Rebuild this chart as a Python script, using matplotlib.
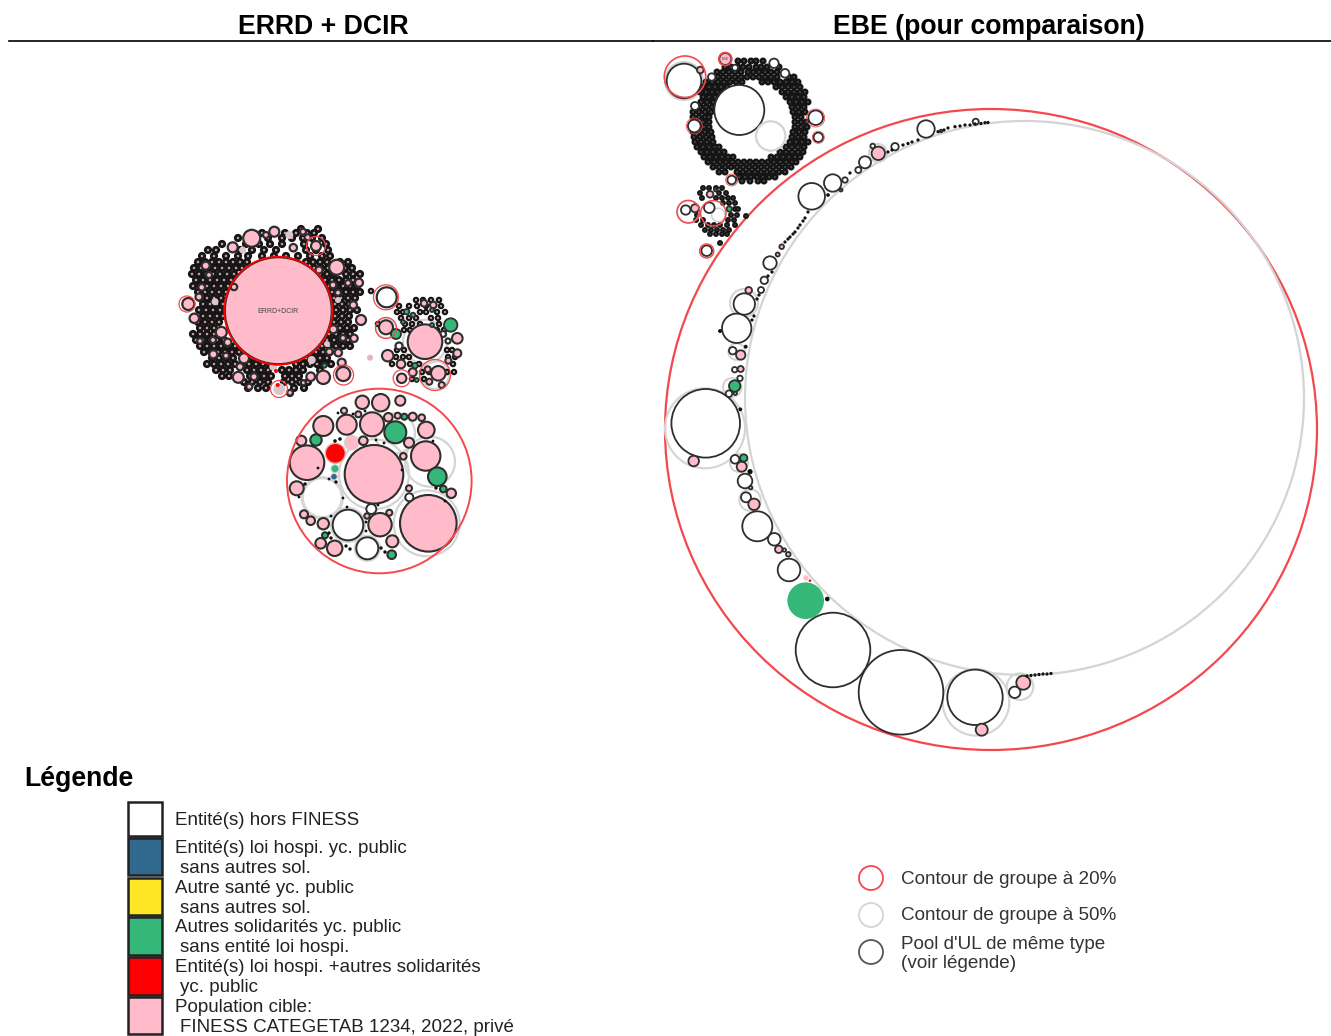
import matplotlib
matplotlib.use("Agg")
import matplotlib.pyplot as plt
from matplotlib.patches import Circle, Ellipse, Rectangle

plt.rcParams['font.family'] = ['Liberation Sans', 'DejaVu Sans']

PINK = "#ffbbc9"
GREEN = "#35b779"
BLUE = "#31688e"
YELLOW = "#fde725"
RED = "#ff0000"
EDGE = "#2e2e2e"
GREY = "#d4d4d4"
CONTOUR = "#f4484c"

# all circles are (x, y, radius) in pixels

# ---- ERRD + DCIR, first group
errd_pink = [(278.3, 310.7, 53.5), (251.7, 238.3, 8.5), (274.3, 231.7, 5), (232.7, 247.3, 5), (316, 246, 5),
             (336.7, 267.3, 7.5), (188.3, 304, 6), (194.3, 318.3, 4.7), (221.3, 332.3, 5.5), (213.3, 354.3, 4),
             (244, 358.3, 5), (238.3, 377.3, 5.5), (323.3, 377.3, 6.7), (343.3, 374, 7), (361, 320, 5),
             (359, 282.7, 4), (333.3, 329.3, 4), (341.7, 362.7, 4), (338.3, 352.7, 3.7), (205.7, 265.7, 4),
             (293.3, 247.7, 3.7), (310.7, 376.7, 4.3), (354, 338.3, 3.7), (353.3, 305, 3.7), (227.7, 342.3, 3.7),
             (199, 297, 3.5), (234, 287, 3.2), (201.7, 287.3, 3.3), (209, 275, 3), (333, 285, 3.3),
             (338, 292.7, 3), (343, 338, 3), (213, 340, 3), (200, 341, 2.8), (226, 355.7, 3), (254, 376.7, 3.5),
             (266, 235, 3), (303, 231.7, 3), (307.7, 237.3, 3), (329.3, 351.7, 3.3), (319, 270, 3.5),
             (348, 283, 3), (240, 366.7, 3.5), (249.3, 386.7, 3), (290, 392.7, 2.8), (303.3, 382.7, 2.5)]
errd_plain = [(215, 301.7, 3.5), (242.7, 250, 3.5), (273.3, 366.7, 4), (311.7, 360, 4), (289.3, 235, 4),
              (279.3, 389, 6), (327, 344, 3), (338, 300, 3)]
errd_red_rings = [(187, 304, 8), (316, 246, 9.5), (343.5, 375, 10), (279, 389, 8.5)]
errd_main_ring = [(278.3, 310.7, 54)]
errd_red_dots = [(276, 371, 2), (277.7, 385, 2)]
errd_green_dots = [(324.5, 365.5, 2.2)]

# tiny circles of the first group, as (y, [x, ...]) rows
errd_rows = [
    (229, [301, 318]),
    (233, [262, 285, 296, 307, 314]),
    (238, [238, 268, 282, 292, 303, 312, 322]),
    (244, [222, 246, 259, 270, 282, 304, 326]),
    (250, [208, 216, 240, 252, 264, 276, 306, 316, 328]),
    (256, [202, 214, 226, 238, 248, 262, 274, 286, 298, 310, 322, 330]),
    (262, [198, 205, 212, 219, 226, 233, 240, 247, 306, 313, 320, 327, 340, 348]),
    (268, [194, 201, 208, 215, 222, 229, 236, 242, 314, 321, 328, 345, 352]),
    (274, [192, 199, 206, 213, 220, 227, 234, 320, 327, 334, 346, 353, 360]),
    (280, [196, 203, 210, 217, 224, 231, 325, 332, 339, 346, 353]),
    (286, [193, 200, 207, 214, 221, 228, 329, 336, 343, 350, 357]),
    (292, [198, 205, 212, 219, 226, 332, 339, 346, 353, 360]),
    (298, [200, 207, 214, 221, 334, 341, 348, 355]),
    (304, [203, 210, 217, 223, 335, 342, 349]),
    (310, [199, 206, 213, 220, 336, 343, 350, 357]),
    (316, [203, 210, 217, 223, 335, 342, 349]),
    (322, [198, 205, 212, 219, 334, 341, 348]),
    (328, [200, 207, 214, 340, 347, 354]),
    (334, [193, 200, 207, 214, 329, 336, 343, 350]),
    (340, [196, 203, 210, 217, 224, 327, 334, 341, 348]),
    (346, [200, 207, 214, 221, 228, 235, 322, 329, 336, 343, 350]),
    (352, [204, 211, 218, 225, 232, 239, 316, 323, 330]),
    (358, [212, 219, 226, 233, 252, 259, 306, 313, 320, 327]),
    (364, [207, 214, 221, 228, 235, 242, 249, 256, 263, 270, 296, 303, 310, 317, 324, 331]),
    (370, [216, 223, 230, 247, 254, 261, 268, 282, 289, 296, 303, 320]),
    (376, [222, 229, 250, 257, 264, 271, 285, 292, 299]),
    (382, [244, 252, 260, 268, 284, 292, 300, 308]),
    (388, [248, 258, 266, 294, 304]),
    (393, [290]),
]

# ---- ERRD + DCIR, second group
small_grey = [(425, 341.7, 22), (386, 328, 10), (435, 375, 14)]
small_pink = [(425, 341.7, 17.3), (386, 327.3, 7), (457.3, 338.3, 5.3), (387.7, 355.7, 5.7), (401, 364, 4.3),
              (401.7, 378.3, 4.7), (412.7, 372.3, 4), (438.3, 373.3, 7.3), (427.7, 369.3, 3), (429.3, 381.7, 3),
              (441.7, 385, 3), (457.3, 353.3, 4), (448.3, 360.7, 3), (424, 303.3, 3.3), (433.3, 305, 3.3)]
small_green = [(396, 334, 5), (450.7, 325, 6.7), (406.7, 311.7, 2.7), (415, 365.7, 2.7), (416.7, 380, 2),
               (413, 315, 2.3), (432, 310, 2), (432, 325, 2), (403, 322, 2)]
small_white = [(386.7, 297.3, 10), (443, 334, 3), (399, 346, 3.5), (448, 341, 2.5)]
small_red_rings = [(386, 297.3, 12.5), (435, 375, 15.5), (401.7, 378.3, 8.5), (386, 328, 10.5)]
small_rows = [
    (300, [416, 423, 431, 439]),
    (306, [399, 409, 417, 426, 441]),
    (312, [397, 403, 420, 426, 437, 445]),
    (318, [401, 409, 416, 431, 438]),
    (324, [378, 405, 412, 420, 439]),
    (330, [404, 410, 437, 444]),
    (350, [397, 404, 447, 452]),
    (357, [396, 403, 409, 448, 455]),
    (364, [392, 410, 419, 453]),
    (372, [422, 429, 447, 454]),
    (379, [412, 424]),
    (291, [371, 386]),
]

# ---- ERRD + DCIR, third group
third_grey = [(430, 461.7, 25), (426.7, 523.3, 33), (374, 474.3, 35), (395, 433.3, 20), (322.3, 497.7, 20.5),
              (348, 525, 17), (367.3, 548.3, 12.5)]
third_pink = [(374, 474.3, 29.3), (428.3, 523.3, 28.3), (307, 462.7, 17.3), (425.7, 456, 14.7), (372, 424.3, 12),
              (346.7, 424.7, 10), (323.3, 426, 10), (362.3, 402.3, 6.7), (380.7, 402.7, 8.7), (400.3, 400.7, 5),
              (426.3, 430, 8.3), (409, 442.7, 5), (363.3, 440.7, 4.3), (301.3, 440.7, 5), (296.7, 488.3, 7),
              (380, 524.7, 11.7), (392.3, 541.3, 6), (334.7, 548.3, 7.7), (320.7, 543.3, 5.3), (323.3, 523.7, 5.7),
              (310.7, 520.7, 4.3), (304, 514.3, 4), (451.3, 493.3, 4.7), (409, 488.3, 3), (403.3, 456.3, 3.3),
              (388.3, 417.3, 4.3), (397.7, 415.7, 3), (412.7, 416.7, 4), (421.7, 417.7, 3.3), (358.3, 414.3, 3),
              (344, 410.7, 3), (389.3, 512.7, 3), (367, 516, 2.7)]
third_green = [(437.3, 476.7, 9.3), (395.3, 432.3, 11), (316, 440, 5.7), (391.7, 554.7, 4.3), (325, 535.3, 3),
               (443.3, 489, 3.3), (404.3, 416.7, 3)]
third_white = [(348, 525, 15.3), (367.3, 548.3, 11), (371.3, 509, 5), (409.3, 497.3, 4)]
third_plain = [(351.7, 442.7, 7.3, PINK), (335, 468.7, 4, GREEN), (334, 476.7, 3.3, BLUE),
               (322.3, 497.7, 19, "white")]
third_red = [(335.3, 453.3, 10)]
third_dots = [(340, 439, 1.8), (335, 441, 1.8), (329, 479, 1.4), (336, 482, 1.7), (343, 498, 1.4), (347, 507, 1.4),
              (331, 516, 1.4), (305, 484, 1.7), (299, 497, 1.4), (329, 533, 1.7), (331, 538, 1.7), (346, 546, 1.7),
              (350, 549, 1.7), (381, 548, 1.7), (385, 552, 1.7), (365, 411, 1.4), (353, 414, 1.4), (338, 413, 1.4),
              (376, 440, 1.4), (384, 443, 1.4), (433, 441, 1.4), (436, 488, 1.7), (445, 501, 1.4), (366, 522, 1.4),
              (366, 531, 1.4), (378, 505, 1.4), (402, 470, 1.4), (318, 468, 1.4)]
third_ring = [(379.3, 481, 92.3)]

# ---- EBE, the two big contours
ebe_red_centre = (991, 429.5)
ebe_red_size = (652, 641)
ebe_grey_centre = (1024.5, 398)
ebe_grey_size = (559, 554)

# ---- EBE, circles along the big contour
chain_grey = [(705, 428.3, 40), (976, 702.3, 33.3), (1020, 686.7, 13.3), (736.7, 351.7, 8.3), (732.3, 387.3, 9.3),
              (739, 463, 9), (750, 500, 10.7), (744, 303, 14), (684, 81, 19), (878, 153, 9)]
chain_white = [(833, 650, 37.3), (901, 692.3, 42.3), (975, 697.3, 27.7), (1014.7, 692.3, 5.7), (705.7, 423.3, 34.3),
               (736.7, 328.3, 14.7), (744.3, 304, 10.7), (761, 290, 3), (732.7, 350.7, 3.7), (734.7, 369.7, 2.7),
               (740, 378.3, 2.7), (729, 393.7, 3.3), (735, 459.3, 4.3), (745, 481, 7.3), (746, 497.3, 5),
               (757.3, 526.3, 15), (774.3, 539.3, 6.3), (784.3, 550, 1.7), (789, 570, 11.3), (811.7, 196.3, 13.3),
               (832.7, 183, 8.7), (845, 180, 2.7), (865, 162.3, 6), (872.7, 146, 2.3), (895, 146.7, 3.7),
               (926, 129, 8.7), (975.7, 121.7, 3), (770, 263, 6.7), (764.3, 280.3, 3.7), (858.3, 170, 3)]
chain_pink = [(981.7, 729.7, 6), (1023.3, 682.7, 7), (693.7, 461, 5.3), (748.7, 290.3, 3.3), (740.7, 355, 4.7),
              (740.7, 369, 3), (735.3, 393.3, 1.7), (741.7, 466.7, 5), (750.7, 487.7, 1.7), (754, 504.3, 5.7),
              (778.7, 549.3, 3.7), (788.3, 554.3, 2.3), (878.3, 153.3, 6.7), (781.7, 246.7, 2.3), (777.7, 254.5, 2)]
chain_green = [(734.7, 386, 5.7), (743.7, 458, 3.7), (841, 190, 1.5), (941, 131, 1.3)]
chain_plain = [(805.7, 600.7, 18.3, GREEN), (806, 578, 2.7, PINK), (810, 580.7, 1.3, RED)]
chain_tiny = [(827.3, 599, 1.7), (750, 471.7, 2), (745.7, 346.7, 1.3), (740.3, 409.3, 1.3), (720, 331, 1.3),
              (1027, 676, 1), (1031, 675.5, 1), (1035, 675, 1), (1039, 674.5, 1), (1043, 674, 1), (1047, 674, 1),
              (1051, 673.5, 1), (888, 152, 1), (892, 150, 1), (903, 145, 1), (908, 143.5, 1), (912, 142, 1),
              (918, 140, 1), (938, 131.7, 1), (944, 130, 1), (948, 128, 1), (955, 126.7, 1), (960, 126, 1),
              (965, 125, 1), (970, 125, 1), (975, 124, 1), (981, 123.5, 1), (985, 122.7, 1), (988, 122.5, 1),
              (785, 242, 1), (788, 239, 1), (790, 237, 1), (793, 234, 1), (795, 232, 1), (798, 228, 1), (800, 225, 1),
              (803, 221, 1), (805, 218, 1), (808, 212, 1), (828, 195, 1.2), (850, 173, 1), (772, 272, 1),
              (768, 276, 1), (759, 295, 1), (757, 299, 1), (754, 316, 1), (752, 320, 1)]

# ---- EBE, the group at the top left
top_grey = [(770.7, 136, 14.7)]
top_white = [(684, 81, 17.3), (711.7, 77, 3.7), (695, 106, 4), (694.3, 126, 6.3), (815.7, 117.7, 7.3),
             (818.3, 137.3, 4.7), (785, 73.3, 4.3), (774, 63.3, 4.7), (735, 67.7, 3), (731.7, 180, 4.3)]
top_pink = [(700.3, 70, 3.3), (725.3, 59, 6)]
top_red_rings = [(685, 76.7, 20.7), (725.3, 59, 6.5)]
top_faint_rings = [(694.3, 126, 8), (815.7, 118, 9), (818.3, 137.3, 6), (731.7, 180, 6)]
top_rows = [
    (61, [738, 744, 751, 756, 763]),
    (67, [725, 731, 738, 743, 749, 756, 761, 767, 779]),
    (72, [717, 723, 729, 735, 741, 748, 753, 759, 765, 771, 777]),
    (77, [718, 723, 729, 735, 741, 747, 753, 759, 765, 771, 777, 789, 794]),
    (82, [706, 712, 718, 724, 730, 736, 742, 762, 768, 774, 780, 786, 792, 798]),
    (87, [703, 709, 715, 721, 727, 776, 782, 788, 794, 800]),
    (92, [700, 706, 712, 718, 722, 782, 788, 794, 800, 805]),
    (97, [703, 709, 715, 786, 792, 798, 804]),
    (102, [701, 707, 713, 790, 796, 802, 808]),
    (107, [700, 706, 712, 792, 798, 804]),
    (112, [693, 699, 705, 711, 793, 799, 805]),
    (117, [693, 699, 705, 709, 795, 801]),
    (122, [703, 709, 795, 801, 806]),
    (127, [704, 709, 795, 801, 807]),
    (132, [693, 699, 705, 711, 793, 799, 805]),
    (137, [694, 700, 706, 712, 792, 798, 804]),
    (142, [695, 701, 707, 713, 790, 796, 802, 808]),
    (147, [697, 703, 709, 715, 719, 786, 792, 798, 804]),
    (152, [701, 707, 713, 719, 724, 780, 786, 792, 798, 803]),
    (157, [704, 710, 716, 722, 728, 733, 771, 777, 783, 789, 795, 800]),
    (162, [708, 714, 720, 726, 732, 738, 744, 750, 756, 762, 768, 774, 780, 786, 792, 796]),
    (167, [713, 719, 725, 731, 737, 743, 749, 755, 761, 767, 773, 779, 785, 791]),
    (172, [719, 725, 737, 743, 749, 755, 761, 767, 773, 779, 785]),
    (177, [739, 745, 751, 757, 763, 769, 775]),
    (181, [742, 750, 758, 764]),
]

# ---- EBE, the small group below it
low_grey = [(718.3, 215, 6.7), (688.3, 211.7, 11)]
low_white = [(709.3, 207.7, 5.3), (685.7, 210, 4.7), (706.7, 250.7, 5.3)]
low_pink = [(695, 208.3, 4), (710, 194.3, 3.3)]
low_green = [(729.3, 209, 2.7), (715.5, 190, 1.5)]
low_red_rings = [(688.3, 211.7, 11.3), (713.3, 213.3, 12.7), (706.7, 251, 7)]
low_rows = [
    (188, [703, 709, 716, 722]),
    (193, [700, 719, 726]),
    (198, [702, 716, 722, 728, 733]),
    (203, [723, 729, 735]),
    (209, [735, 738]),
    (215, [697, 731, 737]),
    (220, [696, 703, 728, 734]),
    (225, [701, 708, 714, 720, 727, 735]),
    (230, [705, 711, 717, 723, 729]),
    (234, [710, 716, 722, 727]),
    (216, [746]),
    (243, [720]),
]

# ---- text and legends
titles = ["ERRD + DCIR", "EBE (pour comparaison)"]
legend_title = "Légende"
legend_colors = ["white", BLUE, YELLOW, GREEN, RED, PINK]
legend_first = ["Entité(s) hors FINESS", "Entité(s) loi hospi. yc. public", "Autre santé yc. public",
                "Autres solidarités yc. public", "Entité(s) loi hospi. +autres solidarités", "Population cible:"]
legend_second = ["", "sans autres sol.", "sans autres sol.", "sans entité loi hospi.", "yc. public",
                 "FINESS CATEGETAB 1234, 2022, privé"]
legend_top = [802, 838, 878, 917, 957, 997]
legend_bottom = [836, 875, 915, 955, 995, 1034]
contour_labels = ["Contour de groupe à 20%", "Contour de groupe à 50%", "Pool d'UL de même type\n(voir légende)"]
contour_colors = [CONTOUR, GREY, "#555555"]
contour_y = [878, 915, 952]


def draw_circles(ax, circles, fill="none", edge=EDGE, lw=1.3, z=2):
    for x, y, r in circles:
        ax.add_patch(Circle((x, y), r, facecolor=fill, edgecolor=edge, linewidth=lw, zorder=z))


def draw_rows(ax, rows, r, fill, lw, z=2):
    for y, xs in rows:
        for x in xs:
            ax.add_patch(Circle((x, y), r, facecolor=fill, edgecolor="#151515", linewidth=lw, zorder=z))


fig = plt.figure(figsize=(13.31, 10.36), dpi=100)
ax = fig.add_axes([0, 0, 1, 1])
ax.set_xlim(0, 1331)
ax.set_ylim(1036, 0)
ax.axis("off")

# left panel
draw_rows(ax, errd_rows, 2.7, "#c89aa6", 2.0)
draw_circles(ax, errd_plain, "#dcc6cc", edge="none", z=3)
draw_circles(ax, errd_pink, PINK, lw=1.6, z=3)
draw_circles(ax, errd_main_ring, edge=RED, lw=1.3, z=4)
draw_circles(ax, errd_red_rings, edge=CONTOUR, lw=0.9, z=4)
draw_circles(ax, errd_red_dots, RED, edge="none", z=4)
draw_circles(ax, errd_green_dots, GREEN, z=4)
ax.add_patch(Circle((370, 357.7), 3, facecolor="#e3b4c2", edgecolor="none"))
ax.text(278, 311.5, "ERRD+DCIR", fontsize=5, ha="center", va="center", color="#444444", zorder=5)

draw_circles(ax, small_grey, edge=GREY, lw=1.6)
draw_rows(ax, small_rows, 2.2, "#c89aa6", 1.5)
draw_circles(ax, small_white, "white", lw=1.6, z=3)
draw_circles(ax, small_pink, PINK, lw=1.5, z=3)
draw_circles(ax, small_green, GREEN, z=3)
draw_circles(ax, small_red_rings, edge=CONTOUR, lw=0.9, z=4)

draw_circles(ax, third_grey, edge=GREY, lw=1.6)
for x, y, r, color in third_plain:
    ax.add_patch(Circle((x, y), r, facecolor=color, edgecolor=GREY, linewidth=0.8, zorder=3))
draw_circles(ax, third_pink, PINK, lw=1.5, z=3)
draw_circles(ax, third_green, GREEN, lw=1.5, z=3)
draw_circles(ax, third_white, "white", lw=1.4, z=3)
draw_circles(ax, third_red, RED, edge="#e8b0b0", lw=1, z=3)
draw_circles(ax, third_dots, "#111111", edge="none", z=3)
draw_circles(ax, third_ring, edge=CONTOUR, lw=1.4, z=4)

# right panel
ax.add_patch(Ellipse(ebe_red_centre, *ebe_red_size, facecolor="none", edgecolor=CONTOUR, linewidth=1.6, zorder=2))
ax.add_patch(Ellipse(ebe_grey_centre, *ebe_grey_size, facecolor="none", edgecolor=GREY, linewidth=1.6, zorder=2))
draw_circles(ax, chain_grey, edge=GREY, lw=1.5)
draw_circles(ax, chain_white, "white", z=3)
draw_circles(ax, chain_pink, PINK, z=3)
draw_circles(ax, chain_green, GREEN, z=3)
for x, y, r, color in chain_plain:
    ax.add_patch(Circle((x, y), r, facecolor=color, edgecolor="none", zorder=3))
draw_circles(ax, chain_tiny, "#111111", edge="#111111", lw=0.9, z=3)

draw_rows(ax, top_rows, 2.3, "#444444", 1.7)
draw_circles(ax, [(739.3, 110, 25)], "white", z=3)
draw_circles(ax, top_grey, edge=GREY, lw=1.6, z=3)
draw_circles(ax, top_white, "white", z=3)
draw_circles(ax, top_pink, PINK, z=3)
draw_circles(ax, top_red_rings, edge=CONTOUR, lw=1.2, z=4)
draw_circles(ax, top_faint_rings, edge=CONTOUR, lw=0.6, z=4)
ax.text(725.3, 59, "EBE", fontsize=2.5, ha="center", va="center", color="#444444", zorder=5)

draw_rows(ax, low_rows, 1.9, "#444444", 1.5)
draw_circles(ax, low_grey, edge=GREY, lw=1.2)
draw_circles(ax, low_white, "white", z=3)
draw_circles(ax, low_pink, PINK, z=3)
draw_circles(ax, low_green, GREEN, z=3)
draw_circles(ax, low_red_rings, edge=CONTOUR, lw=1.1, z=4)

# headers
ax.text(323.5, 27, titles[0], fontsize=19.2, fontweight="bold", ha="center", va="center", color="black")
ax.text(989, 27, titles[1], fontsize=19.2, fontweight="bold", ha="center", va="center", color="black")
ax.plot([9, 653], [41, 41], color="black", lw=1.2)
ax.plot([653, 1331], [41, 41], color="black", lw=1.2)

# category legend
ax.text(24, 779.5, legend_title, fontsize=19.2, fontweight="bold", ha="left", va="center", color="black")
for i, color in enumerate(legend_colors):
    ax.add_patch(Rectangle((127.5, legend_top[i]), 34, legend_bottom[i] - legend_top[i], facecolor=color,
                           edgecolor="#222222", linewidth=1.8))
    if legend_second[i]:
        ax.text(175, legend_top[i] + 10.5, legend_first[i], fontsize=13.5, ha="left", va="center", color="#222222")
        ax.text(180, legend_top[i] + 30.5, legend_second[i], fontsize=13.5, ha="left", va="center", color="#222222")
    else:
        ax.text(175, legend_top[i] + 18.5, legend_first[i], fontsize=13.5, ha="left", va="center", color="#222222")

# contour legend
for i, label in enumerate(contour_labels):
    ax.add_patch(Circle((871, contour_y[i]), 12, facecolor="none", edgecolor=contour_colors[i], linewidth=1.3))
    ax.text(901, contour_y[i] + (2 if i == 2 else 1), label, fontsize=13.6, ha="left", va="center",
            color="#333333", linespacing=1.1)

fig.savefig("out.png", dpi=100)
